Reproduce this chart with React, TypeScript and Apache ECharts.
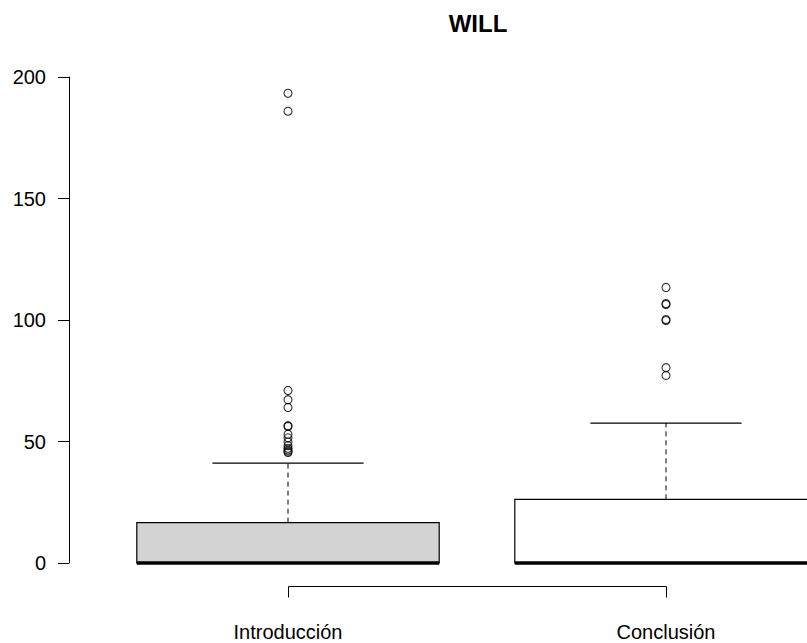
import React, { useEffect, useRef } from "react";
import * as echarts from "echarts";

const categories = ["Introducción", "Conclusión"];
const lowerWhisker = [0, 0];
const q1 = [0, 0];
const medians = [0, 0];
const q3 = [16.6, 26.2];
const upperWhisker = [41.1, 57.6];
const introOutliers = [193.3, 185.9, 71, 67.2, 64, 56.5, 56.2, 53, 51.5, 49.8, 48.3, 47.2, 46.5, 46, 45.5];
const conclOutliers = [113.4, 106.8, 106.4, 100.2, 99.8, 80.4, 77.2];
const yMin = 0;
const yMax = 200;
const yInterval = 50;

const boxFills = ["#d3d3d3", "#ffffff"];
const FONT = "'Liberation Sans', Arial, Helvetica, sans-serif";

export default function App() {
  const ref = useRef<HTMLDivElement>(null);
  useEffect(() => {
    if (!ref.current) return;
    const chart = echarts.init(ref.current, undefined, { renderer: "svg" });
    const boxData = categories.map((_, i) => [i, lowerWhisker[i], q1[i], medians[i], q3[i], upperWhisker[i]]);
    const outlierData = [
      ...introOutliers.map((v) => [0, v]),
      ...conclOutliers.map((v) => [1, v]),
    ];
    const option: any = {
      animation: false,
      backgroundColor: "#ffffff",
      graphic: [
        {
          type: "text",
          x: 478,
          y: 23,
          style: {
            text: "WILL",
            font: `bold 24px ${FONT}`,
            fill: "#000",
            textAlign: "center",
            textVerticalAlign: "middle",
          },
        },
      ],
      grid: { left: 99, top: 77, width: 756, height: 486, outerBoundsMode: "none", containLabel: false },
      xAxis: {
        type: "category",
        data: categories,
        boundaryGap: true,
        offset: 23,
        axisLine: { show: false },
        axisTick: { show: false },
        axisLabel: { fontSize: 20, fontFamily: FONT, color: "#000", margin: 36 },
        splitLine: { show: false },
      },
      yAxis: {
        type: "value",
        min: yMin,
        max: yMax,
        interval: yInterval,
        offset: 30,
        axisLine: { show: true, lineStyle: { color: "#000", width: 1 } },
        axisTick: { show: true, length: 11, lineStyle: { color: "#000", width: 1 } },
        axisLabel: { fontSize: 20, fontFamily: FONT, color: "#000", margin: 23 },
        splitLine: { show: false },
      },
      series: [
        {
          type: "custom",
          data: boxData,
          clip: false,
          renderItem: (params: any, api: any) => {
            const idx = api.value(0);
            const lo = api.coord([idx, api.value(1)]);
            const b1 = api.coord([idx, api.value(2)]);
            const med = api.coord([idx, api.value(3)]);
            const b3 = api.coord([idx, api.value(4)]);
            const hi = api.coord([idx, api.value(5)]);
            const band = api.size([1, 0])[0];
            const bw = band * 0.8;
            const cw = bw * 0.5;
            const x = lo[0];
            const stroke = "#000";
            return {
              type: "group",
              children: [
                {
                  type: "line",
                  shape: { x1: x, y1: b3[1], x2: x, y2: hi[1] },
                  style: { stroke, lineWidth: 1, lineDash: [5, 4] },
                },
                {
                  type: "line",
                  shape: { x1: x - cw / 2, y1: hi[1], x2: x + cw / 2, y2: hi[1] },
                  style: { stroke, lineWidth: 1.2 },
                },
                {
                  type: "line",
                  shape: { x1: x - cw / 2, y1: lo[1], x2: x + cw / 2, y2: lo[1] },
                  style: { stroke, lineWidth: 1.2 },
                },
                {
                  type: "rect",
                  shape: { x: x - bw / 2, y: b3[1], width: bw, height: b1[1] - b3[1] },
                  style: { fill: boxFills[params.dataIndex], stroke, lineWidth: 1.2 },
                },
                {
                  type: "line",
                  shape: { x1: x - bw / 2, y1: med[1], x2: x + bw / 2, y2: med[1] },
                  style: { stroke, lineWidth: 3.6 },
                },
              ],
            };
          },
        },
        {
          type: "scatter",
          data: outlierData,
          symbol: "circle",
          symbolSize: 8,
          itemStyle: { color: "transparent", borderColor: "#000", borderWidth: 1.1 },
          z: 5,
        },
        {
          type: "custom",
          data: [[0, 1]],
          clip: false,
          renderItem: (params: any, api: any) => {
            const p0 = api.coord([api.value(0), yMin]);
            const p1 = api.coord([api.value(1), yMin]);
            const y = Math.round(p0[1] + 23) + 0.5;
            const xa = Math.round(p0[0]) + 0.5;
            const xb = Math.round(p1[0]) + 0.5;
            return {
              type: "polyline",
              shape: { points: [[xa, y + 11], [xa, y], [xb, y], [xb, y + 11]] },
              style: { stroke: "#000", lineWidth: 1, fill: "none" },
            };
          },
        },
      ],
    };
    chart.setOption(option);
    return () => chart.dispose();
  }, []);
  return <div ref={ref} style={{ position: "fixed", left: 0, top: 0, width: 807, height: 643 }} />;
}
